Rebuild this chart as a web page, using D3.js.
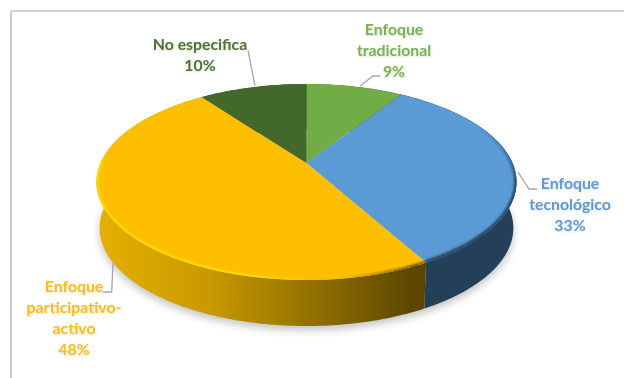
<!DOCTYPE html>
<html><head><meta charset="utf-8">
<script src="https://cdn.jsdelivr.net/npm/d3@7"></script>
<style>
html,body{margin:0;padding:0;background:#fff}
svg{display:block}
text{font-family:Lato,"Open Sans",sans-serif;font-weight:700;font-size:15.8px;text-anchor:middle}
</style></head><body>
<svg id="chart" width="624" height="378"></svg>
<script>
const categories = ["Enfoque tradicional", "Enfoque tecnológico", "Enfoque participativo-activo", "No especifica"];
const values = [9, 33, 48, 10];
const topColors = ["#70ad47", "#5b9bd5", "#fdbf00", "#43682b"];
const labelColors = ["#7ab253", "#5f9ad3", "#fbbf16", "#4f7333"];
const labelLines = [["Enfoque","tradicional","9%"],["Enfoque","tecnológico","33%"],["Enfoque","participativo-","activo","48%"],["No especifica","10%"]];
const labelAnchors = [[394,35],[570,189],[74,292],[200,50]];
const leaders = [[[360,86],[373,76],[380,76]],[[518,172],[529,189],[537,189]],[[113,263],[111.7,292],[103,292]],[[248,50.5],[255,86]]];

// Tilted disc: polar angle on the pie to screen position, with mild perspective
const cx = 306.5, cy = 163, A = 206, B = 94.3, k = 0.194, depth = 46, floorScale = 0.985;
const project = (a) => {
  const u = Math.sin(a), v = -Math.cos(a), d = 1 - k * v;
  return [cx + A * u / d, cy + B * v / d];
};
const arcPts = (a0, a1, dy = 0) => {
  const n = Math.max(2, Math.ceil((a1 - a0) * 60));
  return d3.range(n + 1).map(i => {
    const p = project(a0 + (a1 - a0) * i / n);
    const s = dy ? floorScale : 1;
    return [cx + (p[0] - cx) * s, p[1] + dy];
  });
};
const line = d3.line();
const svg = d3.select("#chart");
const defs = svg.append("defs");
defs.append("filter").attr("id","soft").attr("x","-10%").attr("y","-10%").attr("width","120%").attr("height","130%")
  .append("feGaussianBlur").attr("stdDeviation",4);
defs.append("filter").attr("id","bevel").attr("x","-10%").attr("y","-10%").attr("width","120%").attr("height","120%")
  .append("feGaussianBlur").attr("stdDeviation",1.3);
defs.append("filter").attr("id","glow").attr("x","-10%").attr("y","-10%").attr("width","120%").attr("height","130%")
  .append("feDropShadow").attr("dx",0.5).attr("dy",0.8).attr("stdDeviation",0.8).attr("flood-color","#000").attr("flood-opacity",0.16);

const gradient = (id, stops, x1, x2, y1 = 0, y2 = 0) => {
  const g = defs.append("linearGradient").attr("id",id).attr("gradientUnits","userSpaceOnUse")
    .attr("x1",x1).attr("x2",x2).attr("y1",y1).attr("y2",y2);
  stops.forEach(s => g.append("stop").attr("offset",s[0]).attr("stop-color",s[1]).attr("stop-opacity",s[2] ?? 1));
};
gradient("wallYellow", [[0,"#e6b000"],[0.35,"#c99a00"],[0.7,"#8f6e00"],[1,"#5c4600"]], 96, 414);
gradient("rimYellow", [[0,"#ffe000"],[0.5,"#ffe000"],[0.68,"#ffe000",0],[0.78,"#4a3800",0],[1,"#4a3800",0.8]], 96, 414);
gradient("rimBlue", [[0,"#1c3347",0],[1,"#1c3347",0.85]], 0, 0, 125, 185);

// Chart frame
const frame = svg.append("g").attr("stroke","#bfbfbf").attr("stroke-width",1.6).attr("fill","none");
frame.append("path").attr("d", line([[11,11],[624,11]]));
frame.append("path").attr("d", line([[11,11],[11,378]]));

const slices = d3.pie().value(d => d).sort(null)(values);
const TAU = Math.PI * 2;
const outline = arcPts(0, TAU);

// Soft ground shadow under the disc
svg.append("path").attr("d", line(arcPts(0, TAU, depth + 4)) + "Z").attr("fill","#000").attr("opacity",0.24).attr("filter","url(#soft)");

// Side wall of each slice
const wallFill = ["#38592a","#243f58","url(#wallYellow)","#2f4a1e"];
svg.append("g").selectAll("path").data(slices).join("path")
  .attr("d", d => {
    const top = arcPts(d.startAngle, d.endAngle);
    const bottom = arcPts(d.startAngle, d.endAngle, depth).reverse();
    return line(top.concat(bottom)) + "Z";
  })
  .attr("fill", (d, i) => wallFill[i]);

// Top face of each slice
svg.append("g").selectAll("path").data(slices).join("path")
  .attr("d", d => line([[cx, cy]].concat(arcPts(d.startAngle, d.endAngle))) + "Z")
  .attr("fill", (d, i) => topColors[i]);

// Bevel along the front rim only
const deg = Math.PI / 180;
defs.append("clipPath").attr("id","disc").append("path").attr("d", line(outline) + "Z");
const rim = svg.append("g").attr("clip-path","url(#disc)").attr("fill","none");
rim.append("path").attr("d", line(arcPts(60 * deg, slices[1].endAngle)))
  .attr("stroke","url(#rimBlue)").attr("stroke-width",5).attr("filter","url(#bevel)");
rim.append("path").attr("d", line(arcPts(slices[2].startAngle, 272 * deg)))
  .attr("stroke","url(#rimYellow)").attr("stroke-width",3.5).attr("filter","url(#bevel)");

// Leader lines
svg.append("g").selectAll("path").data(leaders).join("path")
  .attr("d", d => line(d)).attr("fill","none").attr("stroke","#a6a6a6").attr("stroke-width",1.3);

// Data labels
const lh = 21;
const labels = svg.append("g").attr("filter","url(#glow)").selectAll("text").data(labelLines).join("text")
  .attr("fill", (d, i) => labelColors[i])
  .attr("transform", (d, i) => `translate(${labelAnchors[i]})`);
labels.selectAll("tspan").data(d => d).join("tspan")
  .attr("x", 0).attr("y", (d, i) => i * lh).text(d => d);
</script>
</body></html>
